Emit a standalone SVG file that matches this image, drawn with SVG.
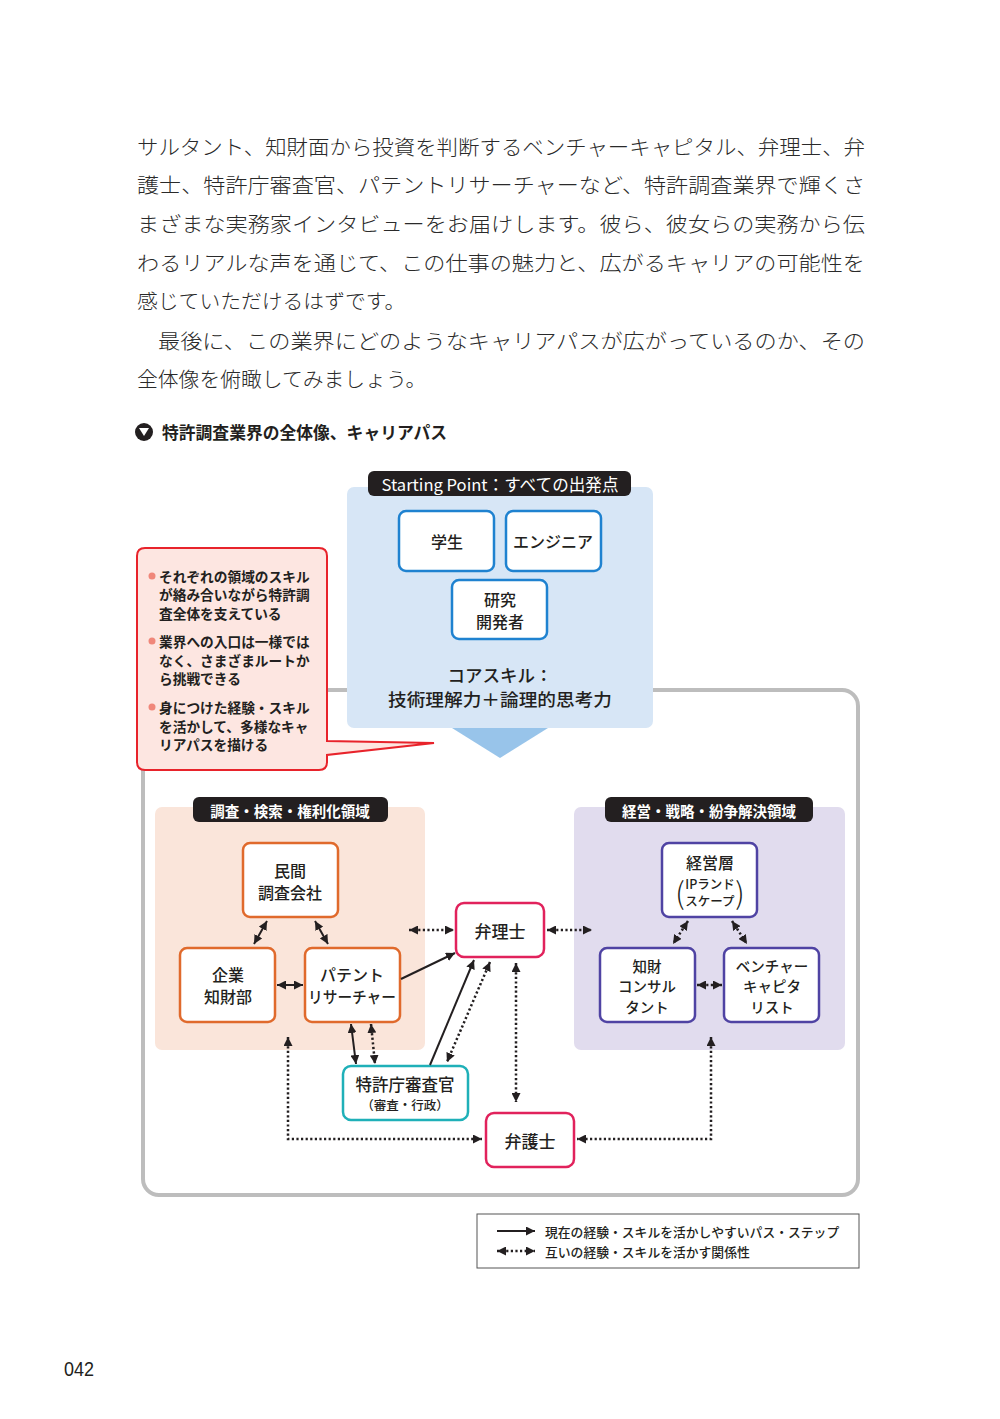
<svg xmlns="http://www.w3.org/2000/svg" width="1000" height="1419" viewBox="0 0 1000 1419">
<defs>
<style>
.body{font-family:"Noto Sans CJK JP","Liberation Serif",serif;font-size:20.8px;fill:#2a2a2a;font-weight:300;dominant-baseline:central}
.t{font-family:"Noto Sans CJK JP","Noto Sans",sans-serif;dominant-baseline:central;text-anchor:middle;fill:#231f20}
.nd{font-size:16px;font-weight:500}
.n3{font-size:14.5px;font-weight:500}
.lbl{font-size:14.5px;font-weight:700;fill:#fff}
.sp{font-size:16.5px;font-weight:400;fill:#fff}
.co{font-family:"Noto Sans CJK JP",sans-serif;font-size:13.7px;font-weight:700;fill:#231f20;dominant-baseline:central}
.bn{fill:#fff;stroke:#1f82d0;stroke-width:2.5}
.on{fill:#fff;stroke:#e06a2c;stroke-width:2.5}
.pn{fill:#fff;stroke:#4f43a3;stroke-width:2.5}
.rn{fill:#fff;stroke:#e1225c;stroke-width:2.5}
.tn{fill:#fff;stroke:#1fb0b8;stroke-width:2.5}
.sl{fill:none;stroke:#231f20;stroke-width:2;marker-end:url(#ah)}
.sd{fill:none;stroke:#231f20;stroke-width:2;marker-start:url(#ah);marker-end:url(#ah)}
.dd{fill:none;stroke:#231f20;stroke-width:2.5;stroke-dasharray:2.2 2.4;marker-start:url(#ah);marker-end:url(#ah)}
</style>
<marker id="ah" viewBox="0 0 10 10" refX="10" refY="5" markerWidth="9" markerHeight="9" markerUnits="userSpaceOnUse" orient="auto-start-reverse"><path d="M0,0 L10,5 L0,10 z" fill="#231f20"/></marker>
</defs>
<rect width="1000" height="1419" fill="#fff"/>

<g id="body-text">
<text class="body" x="137" y="146" textLength="728" lengthAdjust="spacingAndGlyphs">サルタント、知財面から投資を判断するベンチャーキャピタル、弁理士、弁</text>
<text class="body" x="137" y="184" textLength="728" lengthAdjust="spacingAndGlyphs">護士、特許庁審査官、パテントリサーチャーなど、特許調査業界で輝くさ</text>
<text class="body" x="137" y="223" textLength="728" lengthAdjust="spacingAndGlyphs">まざまな実務家インタビューをお届けします。彼ら、彼女らの実務から伝</text>
<text class="body" x="137" y="262" textLength="728" lengthAdjust="spacingAndGlyphs">わるリアルな声を通じて、この仕事の魅力と、広がるキャリアの可能性を</text>
<text class="body" x="137" y="300">感じていただけるはずです。</text>
<text class="body" x="158" y="340" textLength="707" lengthAdjust="spacingAndGlyphs">最後に、この業界にどのようなキャリアパスが広がっているのか、その</text>
<text class="body" x="137" y="378">全体像を俯瞰してみましょう。</text>
</g>

<g id="heading">
<circle cx="144" cy="432" r="9" fill="#231f20"/>
<polygon points="139,428 149,428 144,436" fill="#fff"/>
<text x="162" y="432" font-family="Noto Sans CJK JP, sans-serif" font-size="16.8" font-weight="700" fill="#231f20" dominant-baseline="central">特許調査業界の全体像、キャリアパス</text>
</g>

<g id="frame">
<rect x="143" y="690" width="715" height="505" rx="16" fill="none" stroke="#bdbdbd" stroke-width="4"/>
</g>

<g id="start-area">
<rect x="347" y="487" width="306" height="241" rx="7" fill="#d7e6f6"/>
<polygon points="452,728 548,728 500,758" fill="#98c4ea"/>
<rect x="368" y="471" width="263" height="25" rx="6" fill="#231f20"/>
<text class="t sp" x="500" y="484" textLength="237" lengthAdjust="spacingAndGlyphs">Starting Point：すべての出発点</text>
<text class="t" x="500" y="674" font-size="17.5" font-weight="500">コアスキル：</text>
<text class="t" x="500" y="698" font-size="17.5" font-weight="500" textLength="224" lengthAdjust="spacingAndGlyphs">技術理解力＋論理的思考力</text>
</g>

<g id="n-student">
<rect class="bn" x="399" y="511" width="95" height="60" rx="7"/>
<text class="t nd" x="447" y="541">学生</text>
</g>
<g id="n-engineer">
<rect class="bn" x="506" y="511" width="95" height="60" rx="7"/>
<text class="t nd" x="553" y="541">エンジニア</text>
</g>
<g id="n-researcher">
<rect class="bn" x="452" y="580" width="95" height="59" rx="7"/>
<text class="t nd" x="500" y="599">研究</text>
<text class="t nd" x="500" y="621">開発者</text>
</g>

<g id="callout">
<path d="M145,548 H319 Q327,548 327,556 V741 L434,743 L327,755 V762 Q327,770 319,770 H145 Q137,770 137,762 V556 Q137,548 145,548 Z" fill="#fde6e1" stroke="#e8232b" stroke-width="2"/>
<circle cx="152" cy="576" r="3.5" fill="#f0877a"/>
<circle cx="152" cy="641" r="3.5" fill="#f0877a"/>
<circle cx="152" cy="707" r="3.5" fill="#f0877a"/>
<text class="co" x="159" y="576">それぞれの領域のスキル</text>
<text class="co" x="159" y="594">が絡み合いながら特許調</text>
<text class="co" x="159" y="613">査全体を支えている</text>
<text class="co" x="159" y="641">業界への入口は一様では</text>
<text class="co" x="159" y="660">なく、さまざまルートか</text>
<text class="co" x="159" y="678">ら挑戦できる</text>
<text class="co" x="159" y="707">身につけた経験・スキル</text>
<text class="co" x="159" y="726">を活かして、多様なキャ</text>
<text class="co" x="159" y="744">リアパスを描ける</text>
</g>

<g id="area-left">
<rect x="155" y="807" width="270" height="243" rx="7" fill="#fae5da"/>
<rect x="193" y="797" width="195" height="25" rx="6" fill="#231f20"/>
<text class="t lbl" x="290" y="810">調査・検索・権利化領域</text>
</g>
<g id="area-right">
<rect x="574" y="807" width="271" height="243" rx="7" fill="#e1dcee"/>
<rect x="605" y="797" width="208" height="25" rx="6" fill="#231f20"/>
<text class="t lbl" x="709" y="810">経営・戦略・紛争解決領域</text>
</g>

<g id="n-private">
<rect class="on" x="243" y="843" width="95" height="74" rx="7"/>
<text class="t nd" x="290" y="870">民間</text>
<text class="t nd" x="290" y="892">調査会社</text>
</g>
<g id="n-corp">
<rect class="on" x="180" y="948" width="95" height="74" rx="7"/>
<text class="t nd" x="228" y="974">企業</text>
<text class="t nd" x="228" y="996">知財部</text>
</g>
<g id="n-patent">
<rect class="on" x="305" y="948" width="95" height="74" rx="7"/>
<text class="t nd" x="352" y="974">パテント</text>
<text class="t nd" x="352" y="996" textLength="88" lengthAdjust="spacingAndGlyphs">リサーチャー</text>
</g>

<g id="n-mgmt">
<rect class="pn" x="662" y="843" width="95" height="74" rx="7"/>
<text class="t nd" x="710" y="862">経営層</text>
<text class="t" x="710" y="883" font-size="12.5" font-weight="500">IPランド</text>
<text class="t" x="710" y="900" font-size="12.5" font-weight="500">スケープ</text>
<text class="t" x="680" y="891" font-size="30" font-weight="300">(</text>
<text class="t" x="740" y="891" font-size="30" font-weight="300">)</text>
</g>
<g id="n-consult">
<rect class="pn" x="600" y="948" width="95" height="74" rx="7"/>
<text class="t n3" x="647" y="965">知財</text>
<text class="t n3" x="647" y="985.5">コンサル</text>
<text class="t n3" x="647" y="1006">タント</text>
</g>
<g id="n-vc">
<rect class="pn" x="724" y="948" width="95" height="74" rx="7"/>
<text class="t n3" x="772" y="965">ベンチャー</text>
<text class="t n3" x="772" y="985.5">キャピタ</text>
<text class="t n3" x="772" y="1006">リスト</text>
</g>

<g id="n-benrishi">
<rect class="rn" x="456" y="903" width="88" height="54" rx="8"/>
<text class="t" x="500" y="930" font-size="17" font-weight="500">弁理士</text>
</g>
<g id="n-bengoshi">
<rect class="rn" x="486" y="1113" width="88" height="54" rx="8"/>
<text class="t" x="530" y="1140" font-size="17" font-weight="500">弁護士</text>
</g>
<g id="n-examiner">
<rect class="tn" x="343" y="1066" width="125" height="54" rx="8"/>
<text class="t" x="405" y="1084" font-size="16.5" font-weight="500">特許庁審査官</text>
<text class="t" x="405" y="1104" font-size="12.5" font-weight="500">（審査・行政）</text>
</g>

<g id="connectors">
<line class="sd" x1="267" y1="921" x2="254" y2="944"/>
<line class="sd" x1="315" y1="921" x2="328" y2="944"/>
<line class="sd" x1="277" y1="985" x2="303" y2="985"/>
<line class="sl" x1="401" y1="979" x2="455" y2="953"/>
<line class="sl" x1="430" y1="1065" x2="474" y2="960"/>
<line class="dd" x1="490" y1="962" x2="447" y2="1062"/>
<line class="dd" x1="516" y1="963" x2="516" y2="1102"/>
<line class="dd" x1="409" y1="930" x2="454" y2="930"/>
<line class="dd" x1="547" y1="930" x2="592" y2="930"/>
<line class="sd" x1="351" y1="1024" x2="356" y2="1064"/>
<line class="dd" x1="371" y1="1024" x2="375" y2="1064"/>
<polyline class="dd" points="288,1037 288,1139 482,1139"/>
<polyline class="dd" points="711,1037 711,1139 577,1139"/>
<line class="dd" x1="688" y1="921" x2="673" y2="944"/>
<line class="dd" x1="732" y1="921" x2="747" y2="944"/>
<line class="dd" x1="697" y1="985" x2="722" y2="985"/>
</g>

<g id="legend">
<rect x="477" y="1214" width="382" height="54" fill="#fff" stroke="#555" stroke-width="1"/>
<line class="sl" x1="497" y1="1231" x2="535" y2="1231"/>
<line class="dd" x1="497" y1="1251" x2="535" y2="1251"/>
<text x="545" y="1231" font-family="Noto Sans CJK JP, sans-serif" font-size="12.8" font-weight="500" fill="#231f20" dominant-baseline="central">現在の経験・スキルを活かしやすいパス・ステップ</text>
<text x="545" y="1251" font-family="Noto Sans CJK JP, sans-serif" font-size="12.8" font-weight="500" fill="#231f20" dominant-baseline="central">互いの経験・スキルを活かす関係性</text>
</g>

<text x="64" y="1369" font-family="Liberation Sans, sans-serif" font-size="20" fill="#231f20" dominant-baseline="central" textLength="30" lengthAdjust="spacingAndGlyphs">042</text>
</svg>
